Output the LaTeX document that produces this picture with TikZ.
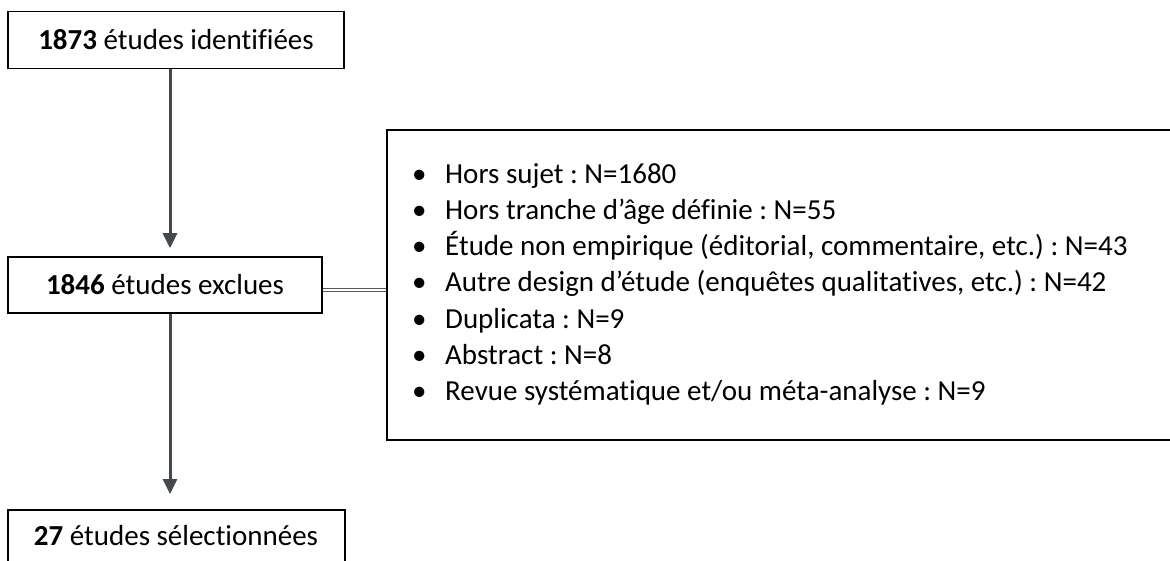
\documentclass[tikz,border=0pt]{standalone}
\usepackage{fontspec}
\setmainfont{Carlito}[Ligatures={NoCommon}]
\frenchspacing
\usetikzlibrary{arrows.meta}
\definecolor{arrgray}{HTML}{45494D}
\tikzset{
  box/.style={draw=black, line width=1.6pt, fill=white, inner sep=0pt},
  arr/.style={draw=arrgray, line width=3pt, -{Triangle[length=15pt,width=14pt]}},
  dbl/.style={draw=gray!70!black, line width=1pt, double=white, double distance=2.2pt},
  txt/.style={font=\fontsize{29}{36}\selectfont, inner sep=0pt},
  item/.style={txt, anchor=base west}
}
\begin{document}
\begin{tikzpicture}[x=1pt,y=1pt]
\useasboundingbox (0,0) rectangle (1170,-561);
\clip (0,0) rectangle (1170,-561);
\node[box, minimum width=336pt, minimum height=57pt] (n1) at (176,-40) {};
\node[txt] (t1) at (n1.center) {\textbf{1873} études identifiées};
\node[box, minimum width=314pt, minimum height=56pt] (n2) at (165,-285) {};
\node[txt] (t2) at (n2.center) {\textbf{1846} études exclues};
\node[box, minimum width=337pt, minimum height=80pt, anchor=north] (n3) at (176.5,-509) {};
\node[txt] (t3) at (176,-536) {\textbf{27} études sélectionnées};
\node[box, minimum width=820pt, minimum height=310pt, anchor=north west] (n4) at (386,-129) {};
\coordinate (ax) at (170,0);
\draw[arr] (n1.south -| ax) -- ([yshift=8pt]n2.north -| ax);
\draw[arr] (n2.south -| ax) -- ([yshift=15pt]n3.north -| ax);
\coordinate (dy) at (0,-290);
\draw[dbl] (n2.east |- dy) -- (n4.west |- dy);
\node[item] (l1) at (412,-184) {\makebox[33pt][l]{•}Hors sujet : N=1680};
\node[item] (l2) at (412,-220) {\makebox[33pt][l]{•}Hors tranche d’âge définie : N=55};
\node[item] (l3) at (412,-256) {\makebox[33pt][l]{•}Étude non empirique (éditorial, commentaire, etc.) : N=43};
\node[item] (l4) at (412,-292) {\makebox[33pt][l]{•}Autre design d’étude (enquêtes qualitatives, etc.) : N=42};
\node[item] (l5) at (412,-328) {\makebox[33pt][l]{•}Duplicata : N=9};
\node[item] (l6) at (412,-364) {\makebox[33pt][l]{•}Abstract : N=8};
\node[item] (l7) at (412,-400) {\makebox[33pt][l]{•}Revue systématique et/ou méta-analyse : N=9};
\end{tikzpicture}
\end{document}
